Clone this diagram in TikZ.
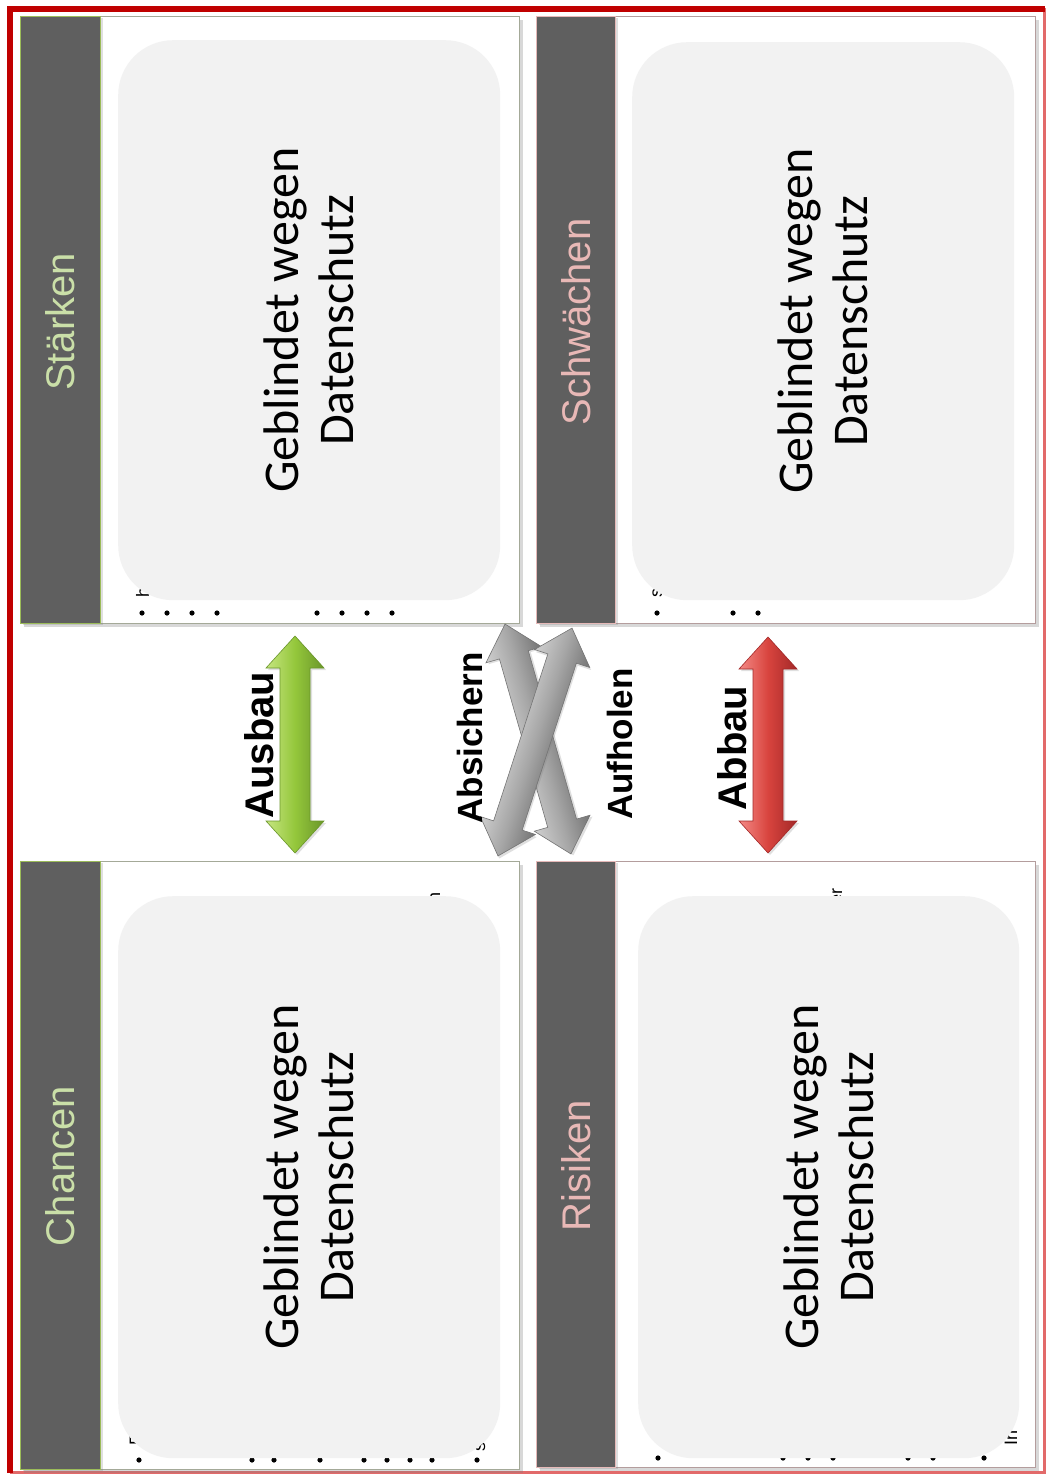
\documentclass[tikz,border=0pt]{standalone}
\usepackage{fontspec}
\setmainfont{Liberation Sans}
\newfontfamily\carlito{Carlito}
\usetikzlibrary{calc,shadows}
\definecolor{frameRed}{HTML}{C00000}
\definecolor{frameLight}{HTML}{E26A6A}
\definecolor{headGray}{HTML}{5F5F5F}
\definecolor{greenEdge}{HTML}{9BBB59}
\definecolor{pinkEdge}{HTML}{E6B9B8}
\definecolor{greenText}{HTML}{CADFA8}
\definecolor{pinkText}{HTML}{E8B8B6}
\definecolor{innerGray}{HTML}{F2F2F2}
\definecolor{panelEdgeG}{HTML}{A4A998}
\definecolor{panelEdgeR}{HTML}{B49D9D}
\definecolor{gLight}{HTML}{C6E581}
\definecolor{gMid}{HTML}{94C73B}
\definecolor{gDark}{HTML}{6A962A}
\definecolor{rLight}{HTML}{F48A86}
\definecolor{rMid}{HTML}{D8443E}
\definecolor{rDark}{HTML}{A32828}
\definecolor{grLight}{HTML}{CFCFCF}
\definecolor{grMid}{HTML}{A6A6A6}
\definecolor{grDark}{HTML}{747474}
\tikzset{
  panel/.style={draw, line width=1.3pt, fill=white, inner sep=0pt, anchor=north west,
    drop shadow={shadow xshift=3pt, shadow yshift=-3pt, opacity=0.3}},
  headbar/.style={fill=headGray, line width=1.2pt, inner sep=0pt, anchor=north west,
    drop shadow={shadow xshift=2pt, shadow yshift=-1.5pt, opacity=0.25}},
  innerbox/.style={fill=innerGray, rounded corners=55pt, inner sep=0pt, anchor=north west},
  bodytext/.style={rotate=90, align=center, font=\carlito\fontsize{50}{55}\selectfont},
  headlabel/.style={rotate=90, font=\fontsize{40}{48}\selectfont},
  arrowlabel/.style={rotate=90, font=\bfseries\fontsize{#1}{48}\selectfont},
  frag/.style={rotate=90, font=\fontsize{18}{20}\selectfont, inner sep=0pt},
  dot/.style={fill=black},
  garrow/.style={left color=gLight, right color=gDark, middle color=gMid, draw=gDark, line width=0.6pt,
    drop shadow={shadow xshift=2pt, shadow yshift=-2pt, opacity=0.25}},
  rarrow/.style={left color=rLight, right color=rDark, middle color=rMid, draw=rDark, line width=0.6pt,
    drop shadow={shadow xshift=2pt, shadow yshift=-2pt, opacity=0.25}},
  grarrow/.style={left color=grLight, right color=grDark, middle color=grMid, draw=grDark, line width=0.6pt,
    drop shadow={shadow xshift=2pt, shadow yshift=-2pt, opacity=0.25}},
}
\newcommand\blockarrow[3]{%
  \coordinate (#1h) at ($(#1)!32pt!(#2)$);
  \coordinate (#2h) at ($(#2)!32pt!(#1)$);
  \shade[#3] (#1) -- ($(#1h)!29pt!90:(#2)$) -- ($(#1h)!15pt!90:(#2)$)
    -- ($(#2h)!15pt!-90:(#1)$) -- ($(#2h)!29pt!-90:(#1)$) -- (#2)
    -- ($(#2h)!29pt!90:(#1)$) -- ($(#2h)!15pt!90:(#1)$)
    -- ($(#1h)!15pt!-90:(#2)$) -- ($(#1h)!29pt!-90:(#2)$) -- cycle;}
\begin{document}
\begin{tikzpicture}[x=1pt, y=-1pt]
\useasboundingbox[fill=white] (0,0) rectangle (1047,1475);
% outer frame
\draw[frameLight, line width=3pt] (1044.5,8) -- (1044.5,1472.5) -- (10,1472.5);
\draw[frameRed, line width=6pt] (10,1472.5) -- (10,8.5) -- (1044.5,8.5);

% ---------- panels ----------
\node[panel, draw=panelEdgeG, minimum width=499pt, minimum height=607pt] (S) at (20,16) {};
\node[panel, draw=panelEdgeR, minimum width=499pt, minimum height=607pt] (W) at (536,16) {};
\node[panel, draw=panelEdgeG, minimum width=499pt, minimum height=608pt] (O) at (20,861) {};
\node[panel, draw=panelEdgeR, minimum width=499pt, minimum height=606pt] (T) at (536,861) {};

% header bars
\node[headbar, draw=greenEdge, minimum width=80pt, minimum height=607pt] (Sh) at (20,16) {};
\node[headbar, draw=pinkEdge, minimum width=79pt, minimum height=607pt] (Wh) at (536,16) {};
\node[headbar, draw=greenEdge, minimum width=80pt, minimum height=608pt] (Oh) at (20,861) {};
\node[headbar, draw=pinkEdge, minimum width=79pt, minimum height=606pt] (Th) at (536,861) {};

% header labels
\node[headlabel, text=greenText] (Sl) at (60,322) {Stärken};
\node[headlabel, text=pinkText] (Wl) at (576,322) {Schwächen};
\node[headlabel, text=greenText] (Ol) at (60,1166) {Chancen};
\node[headlabel, text=pinkText] (Tl) at (576,1166) {Risiken};

% hidden bullet text fragments (peeking out behind the grey boxes)
\node[frag, anchor=base west] (f1) at (149,598) {h};
\node[frag, anchor=base west] (f2) at (662,598) {s};
\node[frag, anchor=base west] (f3) at (142,1446) {F};
\node[frag, anchor=base west] (f4) at (485,1452) {s};
\node[frag, anchor=base west] (f5) at (1017,1446) {In};
\node[frag, anchor=base east] (f6) at (440,892) {n};
\node[frag, anchor=base east] (f7) at (842,888) {er};

% bullets
\foreach \x in {142,167,192,217,317,342,367,392} \fill[dot] (\x,613) circle (2.6pt);
\foreach \x in {657,733,758} \fill[dot] (\x,613) circle (2.6pt);
\foreach \x in {139,252,274,320,364,387,410,432,477} \fill[dot] (\x,1460) circle (2.6pt);
\foreach \x in {658,783,808,833,908,933,984} \fill[dot] (\x,1458) circle (2.6pt);

% inner rounded boxes
\node[innerbox, minimum width=382pt, minimum height=560pt] (Si) at (118,40) {};
\node[innerbox, minimum width=382pt, minimum height=558pt] (Wi) at (632,42) {};
\node[innerbox, minimum width=382pt, minimum height=562pt] (Oi) at (118,896) {};
\node[innerbox, minimum width=381pt, minimum height=562pt] (Ti) at (638,896) {};

% body texts
\node[bodytext] (St) at (Si.center) {Geblindet wegen\\Datenschutz};
\node[bodytext] (Wt) at (Wi.center) {Geblindet wegen\\Datenschutz};
\node[bodytext] (Ot) at (Oi.center) {Geblindet wegen\\Datenschutz};
\node[bodytext] (Tt) at (Ti.center) {Geblindet wegen\\Datenschutz};

% ---------- arrows ----------
\coordinate (gA) at (295,636);
\coordinate (gB) at (295,853);
\coordinate (rA) at (768,637);
\coordinate (rB) at (768,853);
\blockarrow{gA}{gB}{garrow}
\blockarrow{rA}{rB}{rarrow}

% crossing grey arrows (drawn upright, then turned about their centres)
\begin{scope}[transform canvas={rotate around={16:(538,739)}}]
  \coordinate (xA) at (538,619.4);
  \coordinate (xB) at (538,858.6);
  \blockarrow{xA}{xB}{grarrow}
\end{scope}
\begin{scope}[transform canvas={rotate around={-18:(535,742)}}]
  \coordinate (yA) at (535,622.2);
  \coordinate (yB) at (535,861.8);
  \blockarrow{yA}{yB}{grarrow}
\end{scope}

% arrow labels
\node[arrowlabel=40] (lAusbau) at (259,745) {Ausbau};
\node[arrowlabel=35] (lAbsichern) at (470,738) {Absichern};
\node[arrowlabel=35] (lAufholen) at (620,744) {Aufholen};
\node[arrowlabel=40] (lAbbau) at (732,748) {Abbau};
\end{tikzpicture}
\end{document}
